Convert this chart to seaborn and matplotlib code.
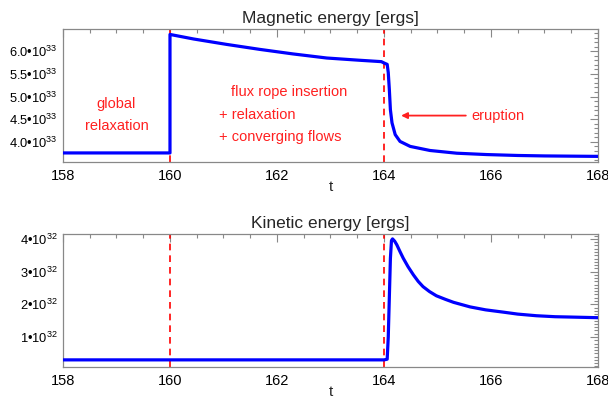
import numpy as np
import pandas as pd
import seaborn as sns
import matplotlib.pyplot as plt
from matplotlib.ticker import MultipleLocator, FuncFormatter

# Magnetic energy (units of 1e33 erg)
t_mag = [158, 160, 160, 160.44, 161.06, 161.68, 162.3, 162.93, 163.55, 163.95,
         164.02, 164.06, 164.08, 164.1, 164.12, 164.15, 164.21, 164.3, 164.49,
         164.86, 165.36, 165.92, 166.5, 167.0, 168.0]
e_mag = [3.756, 3.756, 6.37, 6.27, 6.15, 6.04, 5.94, 5.85, 5.80, 5.77,
         5.73, 5.71, 5.53, 5.16, 4.71, 4.42, 4.16, 4.01, 3.90,
         3.81, 3.75, 3.72, 3.70, 3.69, 3.68]

# Kinetic energy (units of 1e32 erg)
t_kin = [158, 160, 164, 164.06, 164.08, 164.1, 164.12, 164.14, 164.16, 164.2,
         164.24, 164.3, 164.36, 164.45, 164.55, 164.64, 164.73, 164.85, 164.98,
         165.15, 165.3, 165.61, 165.9, 166.23, 166.5, 166.85, 167.2, 167.48, 168.0]
e_kin = [0.30, 0.30, 0.30, 0.32, 1.0, 2.2, 3.4, 3.95, 4.0, 3.93,
         3.82, 3.61, 3.41, 3.15, 2.90, 2.70, 2.54, 2.39, 2.26,
         2.15, 2.06, 1.92, 1.83, 1.76, 1.70, 1.65, 1.62, 1.61, 1.59]

phase_marks = [160, 164]

mag_df = pd.DataFrame({'t': t_mag, 'E': np.array(e_mag) * 1e33})
kin_df = pd.DataFrame({'t': t_kin, 'E': np.array(e_kin) * 1e32})

sns.set_style('white')
plt.rcParams['font.family'] = ['Liberation Sans', 'DejaVu Sans']
plt.rcParams['mathtext.fontset'] = 'custom'
plt.rcParams['mathtext.rm'] = 'Liberation Sans'

fig = plt.figure(figsize=(6.08, 4.0), dpi=100)
ax1 = fig.add_axes([0.1036, 0.595, 0.8799, 0.3325])
ax2 = fig.add_axes([0.1036, 0.0825, 0.8799, 0.3325])


def style_axis(ax):
    ax.set_xlim(158, 168)
    ax.xaxis.set_major_locator(MultipleLocator(2))
    ax.xaxis.set_minor_locator(MultipleLocator(0.5))
    ax.tick_params(which='both', direction='in', top=True, right=True,
                   color='#888888', labelcolor='black')
    ax.tick_params(axis='x', labelsize=10.5, pad=5)
    ax.tick_params(axis='y', labelsize=9.3, pad=4)
    ax.tick_params(which='major', length=6, width=0.8)
    ax.tick_params(which='minor', length=3, width=0.8)
    for s in ax.spines.values():
        s.set_color('#888888')
        s.set_linewidth(0.9)
    ax.set_xlabel('t', fontsize=11, labelpad=-2)
    ax.set_ylabel('')
    for tm in phase_marks:
        ax.axvline(tm, color='red', ls=(0, (4, 3)), lw=1.2, zorder=1)


sns.lineplot(data=mag_df, x='t', y='E', ax=ax1, color='blue', lw=2.3,
             estimator=None, sort=False, zorder=3)
style_axis(ax1)
ax1.set_ylim(3.556e33, 6.49e33)
ax1.yaxis.set_major_locator(MultipleLocator(0.5e33))
ax1.yaxis.set_minor_locator(MultipleLocator(0.1e33))
ax1.yaxis.set_major_formatter(FuncFormatter(
    lambda v, p: '%.1f\u202210$^{33}$' % (v / 1e33)))
ax1.set_title('Magnetic energy [ergs]', fontsize=12.5, pad=4)

red = '#ff2020'
fs = 10.5
ax1.text(159.0, 4.84e33, 'global', color=red, ha='center', va='center', fontsize=fs)
ax1.text(159.0, 4.36e33, 'relaxation', color=red, ha='center', va='center', fontsize=fs)
ax1.text(161.14, 5.11e33, 'flux rope insertion', color=red, va='center', fontsize=fs)
ax1.text(160.92, 4.6e33, '+ relaxation', color=red, va='center', fontsize=fs)
ax1.text(160.92, 4.11e33, '+ converging flows', color=red, va='center', fontsize=fs)
ax1.text(165.63, 4.58e33, 'eruption', color=red, va='center', fontsize=fs)
ax1.annotate('', xy=(164.32, 4.58e33), xytext=(165.53, 4.58e33),
             arrowprops=dict(arrowstyle='-|>', color=red, lw=1.3,
                             mutation_scale=9, shrinkA=0, shrinkB=0))

sns.lineplot(data=kin_df, x='t', y='E', ax=ax2, color='blue', lw=2.3,
             estimator=None, sort=False, zorder=3)
style_axis(ax2)
ax2.set_ylim(0.082e32, 4.15e32)
ax2.yaxis.set_major_locator(MultipleLocator(1e32))
ax2.yaxis.set_minor_locator(MultipleLocator(0.1e32))
ax2.yaxis.set_major_formatter(FuncFormatter(
    lambda v, p: '%d\u202210$^{32}$' % round(v / 1e32)))
ax2.set_title('Kinetic energy [ergs]', fontsize=12.5, pad=4)

fig.savefig('out.png', dpi=100)
